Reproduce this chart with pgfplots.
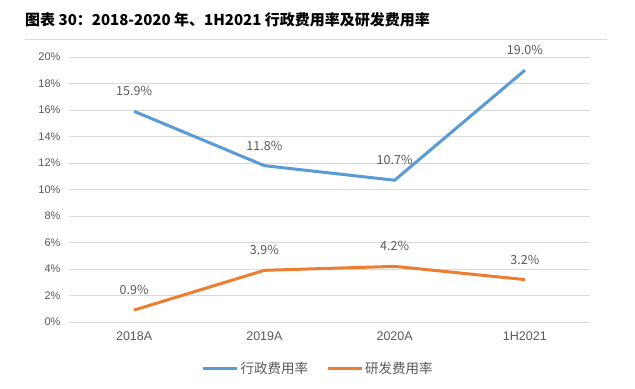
\documentclass[border=0pt]{standalone}
\usepackage{fontspec}
\setmainfont{Liberation Sans}
\newfontfamily\cjk{Noto Sans CJK SC}
\usepackage{pgfplots}
\pgfplotsset{compat=1.18}
\definecolor{cblue}{HTML}{5B9BD5}
\definecolor{corange}{HTML}{ED7D31}
\definecolor{tgray}{HTML}{595959}
\definecolor{ggray}{HTML}{D9D9D9}
\begin{document}
\begin{tikzpicture}[x=1bp,y=1bp]
\useasboundingbox (0,0) rectangle (635,388);
\node[anchor=west, inner sep=0pt, font=\cjk\bfseries\fontsize{15bp}{17bp}\selectfont] at (25,368) {图表 30：2018-2020 年、1H2021 行政费用率及研发费用率};
\draw[ggray, line width=1bp] (25,349) -- (607,349);
\begin{axis}[
  at={(69bp,66bp)}, anchor=south west,
  scale only axis, width=521bp, height=265bp,
  xmin=-0.5, xmax=3.5, ymin=0, ymax=20,
  xtick={0,1,2,3}, xticklabels={2018A,2019A,2020A,1H2021},
  ytick={0,2,...,20},
  yticklabel={\pgfmathprintnumber{\tick}\%},
  /pgf/number format/assume math mode=true,
  axis line style={draw=none},
  major tick length=0pt,
  ymajorgrids, grid style={ggray, line width=0.9bp},
  y tick label style={font=\fontsize{11bp}{13bp}\selectfont, text=tgray, xshift=-5bp},
  x tick label style={font=\fontsize{12.5bp}{14bp}\selectfont, text=tgray, yshift=-6bp},
  nodes near coords={\pgfmathprintnumber[fixed,precision=1,fixed zerofill]{\pgfplotspointmeta}\%},
  every node near coord/.append style={anchor=center, yshift=20bp, font=\cjk\fontsize{12.5bp}{14bp}\selectfont, text=tgray},
  legend style={at={(0.478,-0.174)}, anchor=center, draw=none, fill=none,
    font=\cjk\fontsize{13.5bp}{15bp}\selectfont, text=tgray,
    legend columns=2, /tikz/every even column/.append style={column sep=16bp}},
  legend image code/.code={\draw[#1, line width=3bp] (0bp,0bp) -- (34bp,0bp);},
]
\addplot[cblue, line width=3bp] coordinates {(0,15.9) (1,11.8) (2,10.7) (3,19.0)};
\addlegendentry{行政费用率}
\addplot[corange, line width=3bp] coordinates {(0,0.9) (1,3.9) (2,4.2) (3,3.2)};
\addlegendentry{研发费用率}
\end{axis}
\end{tikzpicture}
\end{document}
